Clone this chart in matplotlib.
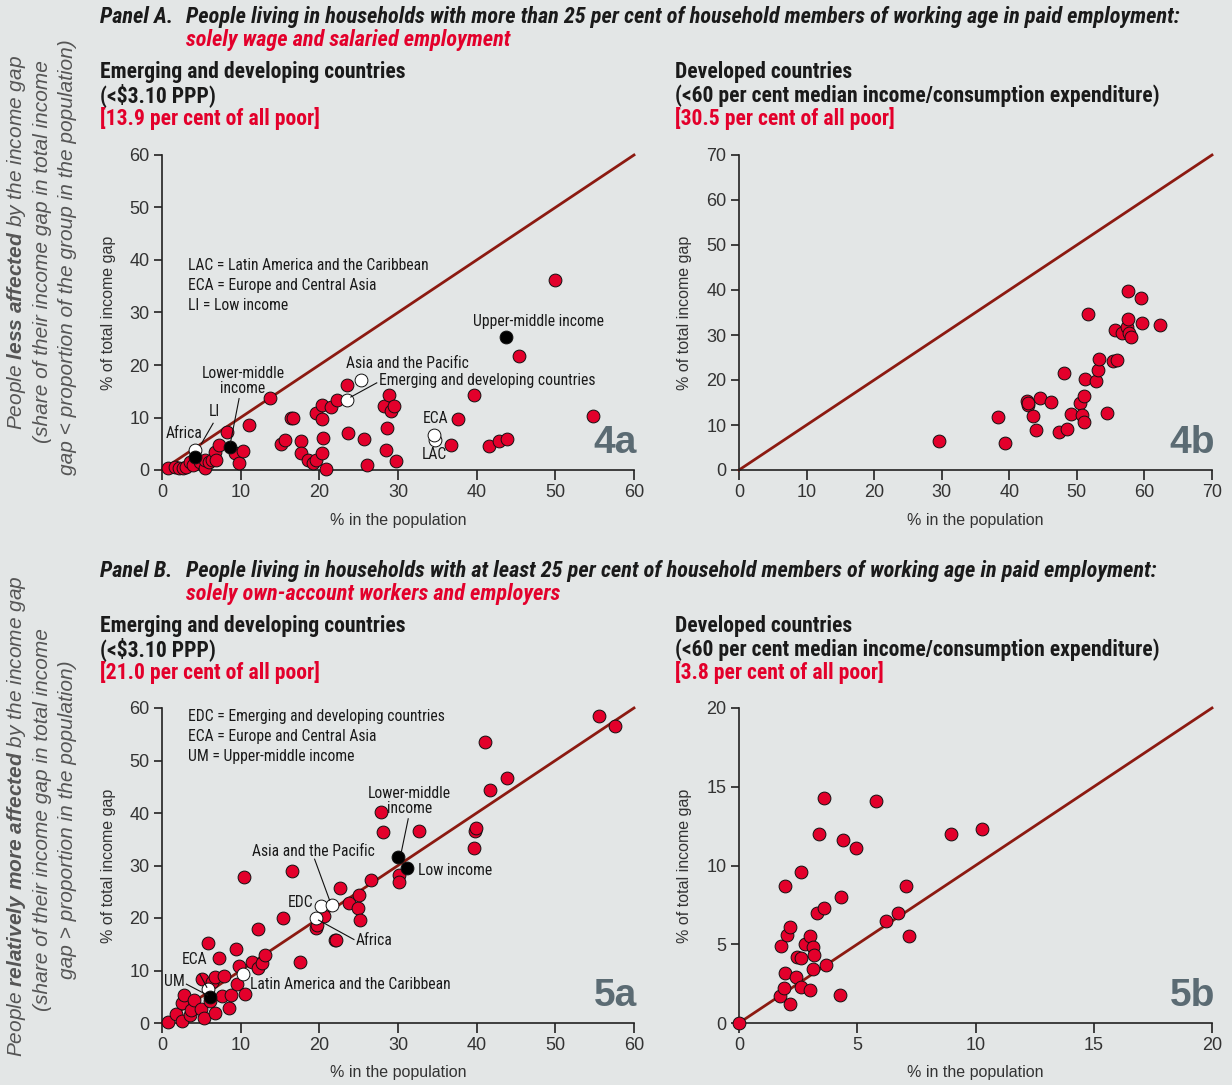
import os
import matplotlib
matplotlib.use('Agg')
import matplotlib.pyplot as plt
from matplotlib import font_manager as fm
import numpy as np

# ---------------- data ----------------
# Chart 4a: emerging and developing countries, wage & salaried employment
a4_red_x = [0.8, 1.6, 2.1, 2.7, 3.1, 3.5, 4.0, 4.8, 5.5, 5.5, 6.0, 6.3, 6.7, 6.9, 7.2, 8.3, 9.3, 9.8,
            10.3, 11.1, 13.7, 15.1, 15.6, 16.4, 16.7, 17.7, 17.7, 18.6, 19.2, 19.6, 19.6, 20.3, 20.4,
            20.3, 20.5, 20.8, 21.5, 22.2, 23.5, 23.7, 25.7, 26.0, 28.5, 28.6, 28.2, 28.8, 29.1, 29.5,
            29.7, 36.8, 37.6, 39.6, 41.6, 42.8, 43.9, 45.4, 49.9, 54.8]
a4_red_y = [0.3, 0.6, 0.3, 0.3, 0.6, 1.5, 1.0, 1.6, 0.3, 1.9, 1.6, 1.9, 3.5, 1.9, 4.8, 7.3, 3.2, 1.4,
            3.7, 8.6, 13.8, 4.9, 5.7, 10.0, 10.0, 5.5, 3.3, 2.0, 1.3, 2.0, 10.9, 3.2, 9.8,
            12.3, 6.1, 0.1, 12.0, 13.4, 16.1, 7.0, 5.9, 0.9, 3.8, 8.0, 12.2, 14.2, 11.3, 12.2,
            1.8, 4.7, 9.8, 14.2, 4.6, 5.5, 6.0, 21.7, 36.1, 10.3]
a4_region_names = ["Africa", "EDC", "Asia and the Pacific", "LAC", "ECA"]
a4_region_x = [4.2, 23.5, 25.3, 34.7, 34.6]
a4_region_y = [3.9, 13.4, 17.2, 5.8, 6.6]
a4_income_names = ["Low income", "Lower-middle income", "Upper-middle income"]
a4_income_x = [4.2, 8.6, 43.7]
a4_income_y = [2.5, 4.3, 25.3]

# Chart 4b: developed countries, wage & salaried employment
b4_red_x = [29.6, 38.4, 39.4, 42.6, 42.7, 42.8, 43.5, 43.9, 44.5, 46.1, 47.4, 48.1, 48.5, 49.2, 50.4,
            50.8, 51.0, 51.1, 51.2, 51.7, 52.9, 53.1, 53.3, 54.4, 55.3, 56.0, 55.6, 56.7, 57.4, 57.7,
            57.6, 58.0, 57.6, 59.5, 59.6, 62.3]
b4_red_y = [6.4, 11.8, 5.9, 15.3, 14.4, 14.8, 12.1, 8.9, 15.9, 15.1, 8.5, 21.6, 9.1, 12.4, 14.8,
            12.3, 10.6, 16.5, 20.3, 34.7, 19.8, 22.2, 24.6, 12.6, 24.2, 24.4, 31.0, 30.4, 31.8, 30.5,
            33.6, 29.5, 39.7, 38.2, 32.6, 32.3]

# Chart 5a: emerging and developing countries, own-account workers and employers
a5_red_x = [0.8, 1.8, 2.5, 2.5, 2.8, 3.5, 3.7, 4.1, 4.9, 5.3, 5.1, 5.9, 6.1, 6.4, 6.7, 6.7, 7.2, 7.6,
            7.9, 8.5, 8.8, 9.4, 9.5, 9.8, 10.4, 10.5, 11.4, 12.2, 12.2, 12.7, 13.1, 15.4, 16.5, 17.6,
            19.6, 19.7, 20.6, 22.0, 22.1, 22.6, 23.8, 24.9, 25.1, 25.2, 26.6, 27.9, 28.1, 30.1, 30.1,
            32.7, 39.6, 39.8, 39.9, 41.0, 41.7, 43.9, 55.5, 57.6]
a5_red_y = [0.1, 1.8, 3.8, 0.3, 5.4, 1.6, 2.5, 4.4, 2.7, 1.0, 8.3, 15.2, 4.1, 7.9, 2.0, 8.8, 12.3, 5.2,
            8.9, 2.8, 5.4, 14.1, 7.4, 10.9, 27.9, 5.5, 11.7, 10.5, 17.9, 11.4, 13.0, 20.0, 29.0, 11.7,
            18.1, 18.7, 20.3, 15.9, 15.9, 25.7, 22.9, 21.9, 24.4, 19.7, 27.3, 40.1, 36.4, 28.1, 26.9,
            36.5, 33.3, 36.5, 37.1, 53.6, 44.4, 46.7, 58.4, 56.6]
a5_region_names = ["ECA", "LAC", "Africa", "EDC", "Asia and the Pacific"]
a5_region_x = [5.8, 10.3, 19.6, 20.2, 21.6]
a5_region_y = [6.4, 9.4, 20.0, 22.2, 22.5]
a5_income_names = ["Upper-middle income", "Lower-middle income", "Low income"]
a5_income_x = [6.1, 30.0, 31.2]
a5_income_y = [5.0, 31.7, 29.5]

# Chart 5b: developed countries, own-account workers and employers
b5_red_x = [0.0, 1.73, 2.15, 1.9, 1.96, 1.78, 2.03, 2.15, 1.96, 2.62, 2.43, 2.62, 2.47, 2.62, 2.81,
            3.02, 3.0, 3.14, 3.19, 3.14, 3.29, 3.39, 3.59, 3.59, 3.66, 4.28, 4.33, 4.4, 4.96, 5.78,
            6.21, 6.74, 7.08, 7.17, 8.96, 10.28]
b5_red_y = [0.0, 1.7, 1.2, 2.2, 3.2, 4.9, 5.6, 6.1, 8.7, 9.6, 2.9, 2.3, 4.2, 4.1, 5.0,
            2.1, 5.5, 4.8, 4.3, 3.4, 7.0, 12.0, 14.3, 7.3, 3.7, 1.8, 8.0, 11.6, 11.1, 14.1,
            6.5, 7.0, 8.7, 5.5, 12.0, 12.3]

x_label = "% in the population"
y_label = "% of total income gap"

# ---------------- style ----------------
W, H = 1232, 1085
BG = '#e3e6e6'
RED = '#e3002b'
DIAG = '#8c1a11'
TAGCOL = '#5b6b73'
TXT = '#1a1a1a'

plt.rcParams['font.family'] = ['Liberation Sans', 'DejaVu Sans']
plt.rcParams['mathtext.fontset'] = 'custom'
plt.rcParams['mathtext.rm'] = 'Liberation Sans'
plt.rcParams['mathtext.it'] = 'Liberation Sans:italic'
plt.rcParams['mathtext.bf'] = 'Liberation Sans:bold'
plt.rcParams['mathtext.bfit'] = 'Liberation Sans:italic:bold'


def pick_condensed():
    pref = ['Liberation Sans Narrow', 'Roboto Condensed', 'Open Sans Condensed', 'Noto Sans Condensed',
            'DejaVu Sans Condensed', 'Noto Sans', 'DejaVu Sans', 'Open Sans', 'Roboto', 'Lato', 'Inter']
    found = set()
    for f in fm.fontManager.ttflist:
        low = (f.name + ' ' + os.path.basename(f.fname)).lower()
        if any(b in low for b in ('mono', 'serif', 'cjk', 'math', 'symbol', 'emoji')):
            continue
        if f.stretch in ('condensed', 'semi-condensed', 'extra-condensed') or 'narrow' in low \
                or 'condensed' in low:
            found.add(f.name)
    for p in pref:
        if p in found:
            return p
    return None


_cond = pick_condensed()
if _cond:
    COND = dict(family=[_cond, 'Liberation Sans', 'DejaVu Sans'], fontstretch='condensed')
else:
    COND = dict(family=['Liberation Sans', 'DejaVu Sans'])

fig = plt.figure(figsize=(W / 100, H / 100), dpi=100, facecolor=BG)
renderer = fig.canvas.get_renderer()


def fx(px):
    return px / W


def fy(py):
    return 1 - py / H


def fit_size(text, target_px, **kw):
    t = fig.text(0, 0, text, fontsize=12, **kw)
    w = t.get_window_extent(renderer=renderer).width
    t.remove()
    return 12 * target_px / w


title_kw = dict(fontweight='bold', fontstyle='italic', **COND)
sub_kw = dict(fontweight='bold', **COND)
tsize = min(18.0, fit_size("People living in households with more than 25 per cent of household members of "
                           "working age in paid employment:", 994, **title_kw))
ssize = min(16.0, fit_size("(<60 per cent median income/consumption expenditure)", 485, **sub_kw))
nsize = min(13.0, fit_size("LAC = Latin America and the Caribbean", 240, **COND))


def make_axes(x0, y0, x1, y1):
    ax = fig.add_axes([fx(x0), fy(y1), (x1 - x0) / W, (y1 - y0) / H])
    ax.set_facecolor('none')
    return ax


def style_axes(ax, lim, step, tag):
    ax.set_xlim(0, lim)
    ax.set_ylim(0, lim)
    ticks = np.arange(0, lim + 0.001, step)
    ax.set_xticks(ticks)
    ax.set_yticks(ticks)
    ax.set_xticklabels([f"{t:g}" for t in ticks])
    ax.set_yticklabels([f"{t:g}" for t in ticks])
    for s in ['top', 'right']:
        ax.spines[s].set_visible(False)
    for s in ['left', 'bottom']:
        ax.spines[s].set_linewidth(1.2)
        ax.spines[s].set_color('#222222')
    ax.tick_params(axis='x', direction='out', length=7, width=1.2, color='#222222',
                   labelsize=13, labelcolor='#333333', pad=3)
    ax.tick_params(axis='y', direction='out', length=6, width=1.2, color='#222222',
                   labelsize=13, labelcolor='#333333', pad=3)
    ax.plot([0, lim], [0, lim], color=DIAG, lw=2.0, zorder=2, clip_on=False)
    ax.text(0.5, -50 / 315, x_label, transform=ax.transAxes, ha='center', va='center',
            fontsize=11.5, color='#333333')
    ax.text(-54 / 472, 0.5, y_label, transform=ax.transAxes, ha='center', va='center',
            rotation=90, fontsize=11.5, color='#333333')
    ax.text(1.006, 0.054, tag, transform=ax.transAxes, ha='right', va='baseline',
            fontsize=28, fontweight='bold', color=TAGCOL, zorder=1)


def dots(ax, x, y, face):
    ax.scatter(x, y, s=85, c=face, edgecolors='#111111', linewidths=0.7, zorder=4, clip_on=False)


def note(ax, x, y, s, ha='left', va='center'):
    ax.text(x, y, s, ha=ha, va=va, fontsize=nsize, color=TXT, zorder=6,
            linespacing=1.0, multialignment='center', **COND)


def leader(ax, x0, y0, x1, y1):
    ax.plot([x0, x1], [y0, y1], color='#111111', lw=0.8, zorder=5, clip_on=False)


# ---------------- titles ----------------
def header(y_title, line_a, line_b, sub_left, sub_right):
    fig.text(fx(100), fy(y_title), "Panel " + line_a[0] + ".", fontsize=tsize, color=TXT,
             va='center', **title_kw)
    fig.text(fx(186), fy(y_title), line_a[1], fontsize=tsize, color=TXT, va='center', **title_kw)
    fig.text(fx(186), fy(y_title + 23), line_b, fontsize=tsize, color=RED, va='center', **title_kw)
    for xs, lines in ((100, sub_left), (675, sub_right)):
        for i, (s, c) in enumerate(lines):
            fig.text(fx(xs), fy(y_title + 55 + i * 23.5), s, fontsize=ssize, color=c, va='center',
                     **sub_kw)


header(17, ("A", "People living in households with more than 25 per cent of household members of "
                 "working age in paid employment:"),
       "solely wage and salaried employment",
       [("Emerging and developing countries", TXT), ("(<$3.10 PPP)", TXT),
        ("[13.9 per cent of all poor]", RED)],
       [("Developed countries", TXT), ("(<60 per cent median income/consumption expenditure)", TXT),
        ("[30.5 per cent of all poor]", RED)])
header(571, ("B", "People living in households with at least 25 per cent of household members of "
                  "working age in paid employment:"),
       "solely own-account workers and employers",
       [("Emerging and developing countries", TXT), ("(<$3.10 PPP)", TXT),
        ("[21.0 per cent of all poor]", RED)],
       [("Developed countries", TXT), ("(<60 per cent median income/consumption expenditure)", TXT),
        ("[3.8 per cent of all poor]", RED)])

# side labels
side_kw = dict(rotation=90, ha='center', va='center', fontsize=15, fontstyle='italic',
               color='#555555')
fig.text(fx(17), fy(243), r"People $\mathbfit{less\ affected}$ by the income gap", **side_kw)
fig.text(fx(43), fy(252), "(share of their income gap in total income", **side_kw)
fig.text(fx(68), fy(257), "gap < proportion of the group in the population)", **side_kw)
fig.text(fx(17), fy(816), r"People $\mathbfit{relatively\ more\ affected}$ by the income gap",
         **side_kw)
fig.text(fx(43), fy(820), "(share of their income gap in total income", **side_kw)
fig.text(fx(68), fy(820), "gap > proportion in the population)", **side_kw)

# ---------------- 4a ----------------
ax = make_axes(162, 155, 634, 470)
style_axes(ax, 60, 10, "4a")
dots(ax, a4_red_x, a4_red_y, RED)
dots(ax, a4_region_x, a4_region_y, 'white')
dots(ax, a4_income_x, a4_income_y, 'black')
note(ax, 3.3, 38.9, "LAC = Latin America and the Caribbean")
note(ax, 3.3, 35.1, "ECA = Europe and Central Asia")
note(ax, 3.3, 31.3, "LI = Low income")
note(ax, 47.8, 28.2, "Upper-middle income", ha='center')
note(ax, 23.4, 20.2, "Asia and the Pacific")
note(ax, 27.6, 17.0, "Emerging and developing countries")
leader(ax, 24.0, 13.9, 27.3, 16.6)
note(ax, 10.3, 17.0, "Lower-middle\nincome", ha='center')
leader(ax, 9.8, 13.6, 8.7, 5.2)
note(ax, 6.7, 11.2, "LI", ha='center')
leader(ax, 6.5, 8.9, 5.0, 5.0)
note(ax, 5.2, 7.0, "Africa", ha='right')
note(ax, 34.8, 9.9, "ECA", ha='center')
note(ax, 34.6, 3.0, "LAC", ha='center')

# ---------------- 4b ----------------
ax = make_axes(739, 155, 1212, 470)
style_axes(ax, 70, 10, "4b")
dots(ax, b4_red_x, b4_red_y, RED)

# ---------------- 5a ----------------
ax = make_axes(162, 708, 634, 1023)
style_axes(ax, 60, 10, "5a")
dots(ax, a5_red_x, a5_red_y, RED)
dots(ax, a5_region_x, a5_region_y, 'white')
dots(ax, a5_income_x, a5_income_y, 'black')
note(ax, 3.3, 58.3, "EDC = Emerging and developing countries")
note(ax, 3.3, 54.5, "ECA = Europe and Central Asia")
note(ax, 3.3, 50.7, "UM = Upper-middle income")
note(ax, 31.5, 42.3, "Lower-middle\nincome", ha='center')
leader(ax, 31.3, 38.9, 30.4, 32.4)
note(ax, 32.5, 29.1, "Low income")
note(ax, 19.3, 32.6, "Asia and the Pacific", ha='center')
leader(ax, 19.4, 31.2, 21.3, 23.4)
note(ax, 19.2, 22.9, "EDC", ha='right')
note(ax, 24.6, 15.7, "Africa")
leader(ax, 19.9, 19.6, 24.4, 15.9)
note(ax, 4.2, 12.0, "ECA", ha='center')
leader(ax, 4.8, 9.3, 5.7, 6.8)
note(ax, 1.6, 7.9, "UM", ha='center')
leader(ax, 3.1, 7.4, 5.8, 5.3)
note(ax, 11.2, 7.4, "Latin America and the Caribbean")

# ---------------- 5b ----------------
ax = make_axes(739, 708, 1212, 1023)
style_axes(ax, 20, 5, "5b")
dots(ax, b5_red_x, b5_red_y, RED)

fig.savefig("out.png", dpi=100, facecolor=BG)
